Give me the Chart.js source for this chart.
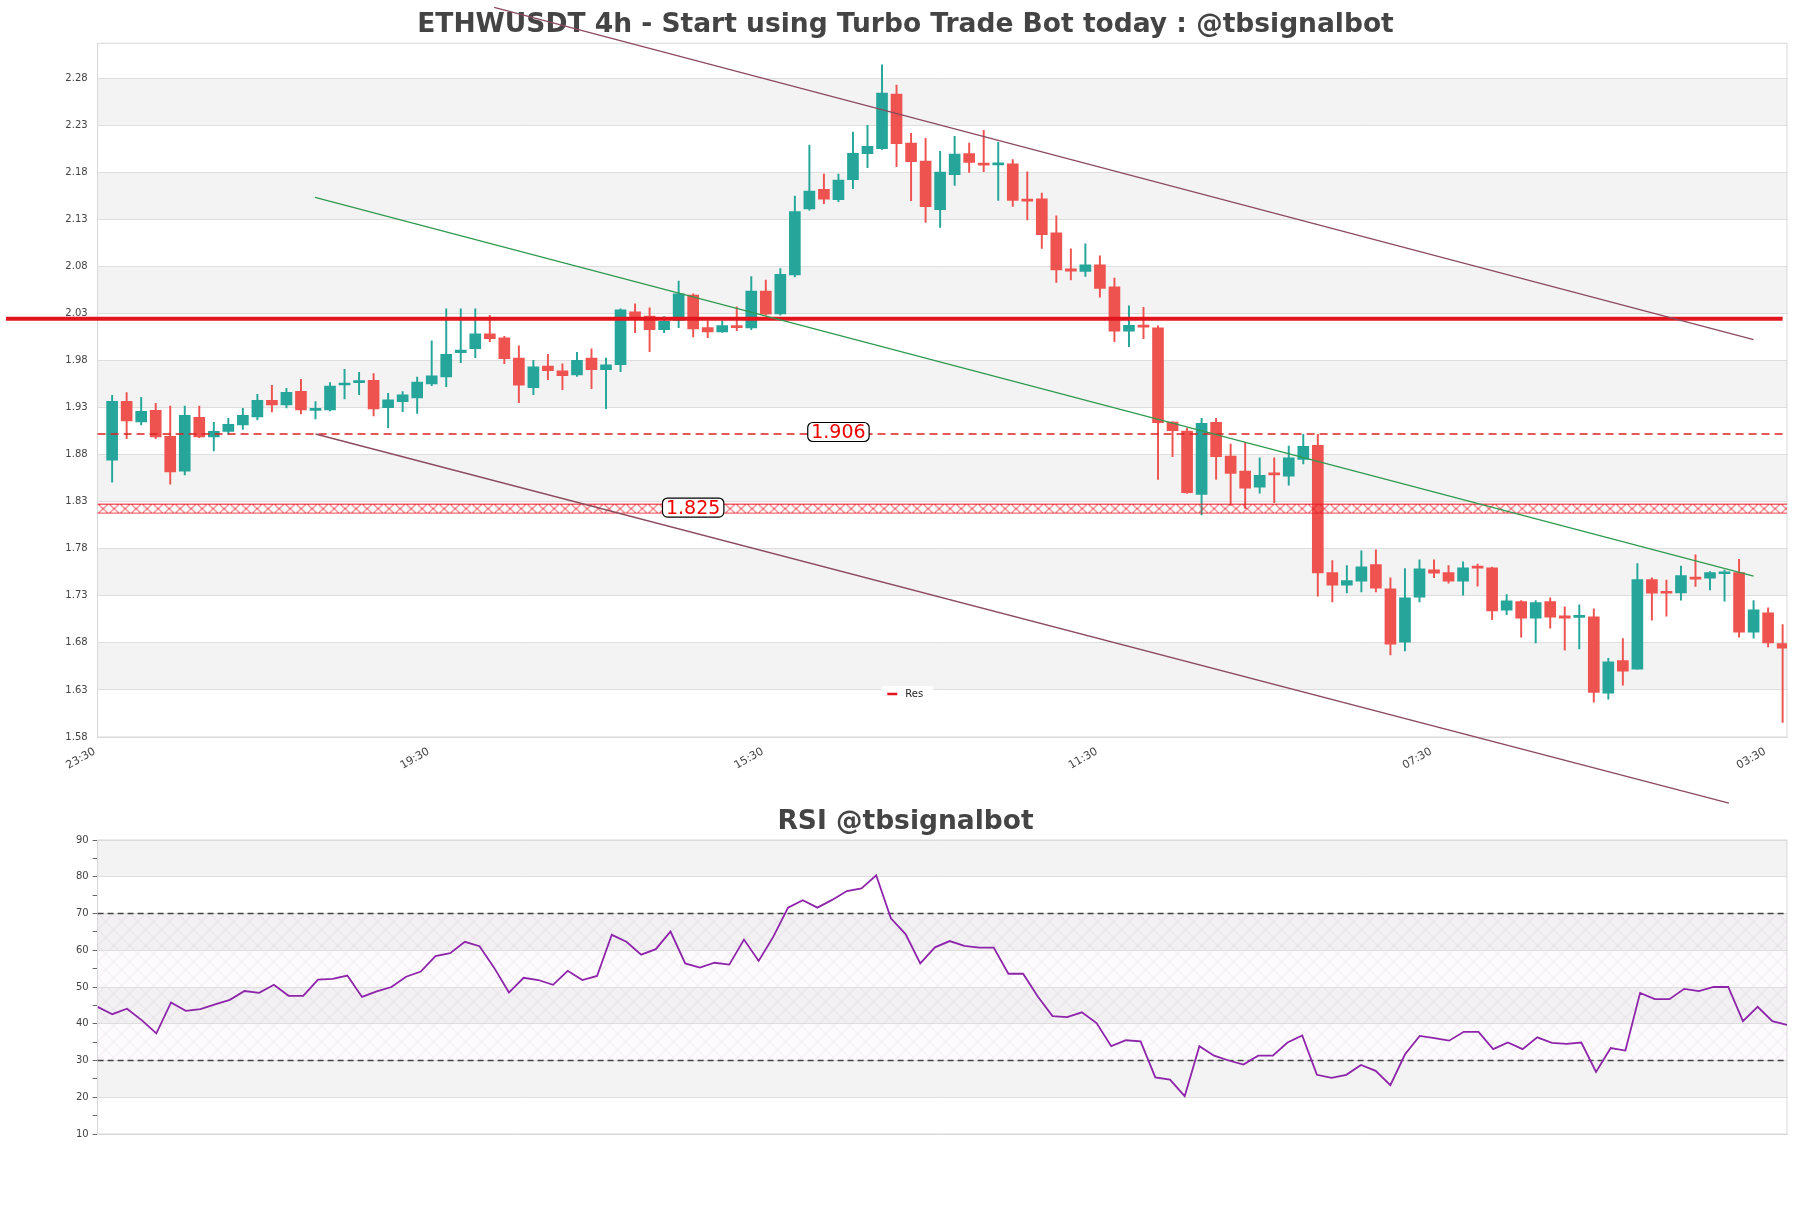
<!DOCTYPE html>
<html>
<head>
<meta charset="utf-8">
<script src="https://cdn.jsdelivr.net/npm/chart.js@4.4.1/dist/chart.umd.min.js"></script>
<style>
html, body { margin: 0; padding: 0; background: #fff; }
#wrap { position: relative; width: 1811px; height: 1208px; }
#priceBox { position: absolute; left: 0; top: 0; width: 1811px; height: 810px; }
#rsiBox { position: absolute; left: 0; top: 790px; width: 1811px; height: 418px; }
</style>
</head>
<body>
<div id="wrap">
  <div id="priceBox"><canvas id="priceChart" width="1811" height="810"></canvas></div>
  <div id="rsiBox"><canvas id="rsiChart" width="1811" height="418"></canvas></div>
</div>
<script>
// ETHWUSDT 4h candles
const openP = [1.8743,1.9367,1.9148,1.9272,1.8995,1.8626,1.9197,1.8988,1.9048,1.9116,
  1.9201,1.9378,1.9328,1.9474,1.9271,1.9275,1.9541,1.9566,1.9591,1.9300,
  1.9364,1.9403,1.9552,1.9626,1.9885,1.9928,2.0084,2.0041,1.9828,1.9513,
  1.9743,1.9690,1.9648,1.9828,1.9704,1.9757,2.0318,2.0272,2.0130,2.0226,
  2.0495,2.0151,2.0105,2.0172,2.0148,2.0538,2.0297,2.0711,2.1413,2.1619,
  2.1509,2.1722,2.1999,2.2052,2.2633,2.2112,2.1920,2.1403,2.1775,2.1999,
  2.1892,2.1880,2.1892,2.1502,2.1520,2.1158,2.0775,2.0747,2.0818,2.0584,
  2.0112,2.0176,2.0148,1.9148,1.9052,1.8378,1.9144,1.8786,1.8626,1.8456,
  1.8592,1.8573,1.8750,1.8899,1.7548,1.7414,1.7456,1.7633,1.7375,1.6807,
  1.7286,1.7577,1.7548,1.7456,1.7598,1.7598,1.7148,1.7240,1.7062,1.7240,
  1.7087,1.7072,1.7077,1.6265,1.6612,1.6520,1.7474,1.7346,1.7332,1.7491,
  1.7488,1.7535,1.7548,1.6913,1.7119,1.6793];
const highP = [1.9431,1.9460,1.9410,1.9346,1.9318,1.9318,1.9318,1.9144,1.9187,1.9293,
  1.9442,1.9538,1.9506,1.9601,1.9364,1.9566,1.9708,1.9676,1.9662,1.9453,
  1.9470,1.9626,2.0009,2.0350,2.0350,2.0350,2.0282,2.0059,1.9956,1.9804,
  1.9867,1.9765,1.9889,1.9924,1.9828,2.0350,2.0403,2.0360,2.0268,2.0644,
  2.0510,2.0222,2.0222,2.0371,2.0694,2.0655,2.0779,2.1548,2.2091,2.1782,
  2.1782,2.2229,2.2300,2.2942,2.2729,2.2215,2.2162,2.2023,2.2183,2.2112,
  2.2247,2.2119,2.1935,2.1807,2.1580,2.1339,2.0988,2.1041,2.0914,2.0676,
  2.0382,2.0367,2.0169,1.9150,1.9080,1.9187,1.9187,1.8914,1.8928,1.8768,
  1.8768,1.8892,1.9016,1.9016,1.7676,1.7623,1.7779,1.7790,1.7492,1.7591,
  1.7683,1.7683,1.7623,1.7662,1.7637,1.7605,1.7314,1.7251,1.7251,1.7279,
  1.7183,1.7204,1.7162,1.6637,1.6846,1.7644,1.7491,1.7467,1.7616,1.7736,
  1.7559,1.7573,1.7687,1.7250,1.7172,1.6995];
const lowP = [1.8509,1.8970,1.9116,1.8970,1.8488,1.8584,1.8981,1.8839,1.9016,1.9070,
  1.9169,1.9254,1.9296,1.9233,1.9180,1.9265,1.9392,1.9438,1.9211,1.9084,
  1.9257,1.9240,1.9534,1.9523,1.9779,1.9832,2.0002,1.9768,1.9353,1.9438,
  1.9598,1.9492,1.9633,1.9502,1.9289,1.9683,2.0098,1.9896,2.0098,2.0151,
  2.0052,2.0045,2.0100,2.0119,2.0130,2.0282,2.0282,2.0690,2.1399,2.1467,
  2.1488,2.1626,2.1850,2.2045,2.1860,2.1499,2.1268,2.1215,2.1662,2.1800,
  2.1807,2.1502,2.1438,2.1296,2.0991,2.0630,2.0658,2.0694,2.0474,2.0002,
  1.9949,2.0034,1.8538,1.8779,1.8389,1.8160,1.8538,1.8260,1.8230,1.8392,
  1.8289,1.8477,1.8701,1.7296,1.7236,1.7332,1.7343,1.7343,1.6672,1.6715,
  1.7236,1.7492,1.7435,1.7307,1.7403,1.7048,1.7101,1.6860,1.6800,1.6956,
  1.6722,1.6736,1.6169,1.6201,1.6350,1.6520,1.7041,1.7084,1.7254,1.7399,
  1.7364,1.7243,1.6860,1.6850,1.6757,1.5956];
const closeP = [1.9367,1.9158,1.9261,1.8988,1.8616,1.9218,1.8988,1.9048,1.9123,1.9218,
  1.9378,1.9328,1.9463,1.9275,1.9285,1.9530,1.9559,1.9587,1.9286,1.9382,
  1.9435,1.9573,1.9637,1.9867,1.9913,2.0084,2.0034,1.9821,1.9538,1.9733,
  1.9694,1.9640,1.9804,1.9704,1.9754,2.0339,2.0261,2.0130,2.0218,2.0509,
  2.0137,2.0105,2.0172,2.0151,2.0538,2.0293,2.0718,2.1385,2.1601,2.1516,
  2.1718,2.2002,2.2077,2.2644,2.2105,2.1913,2.1435,2.1804,2.1995,2.1906,
  2.1878,2.1884,2.1502,2.1495,2.1137,2.0765,2.0750,2.0818,2.0566,2.0112,
  2.0176,2.0155,1.9141,1.9055,1.8396,1.9133,1.8779,1.8602,1.8445,1.8580,
  1.8585,1.8768,1.8889,1.7545,1.7414,1.7463,1.7609,1.7382,1.6786,1.7279,
  1.7587,1.7541,1.7456,1.7598,1.7594,1.7140,1.7247,1.7062,1.7229,1.7073,
  1.7062,1.7076,1.6275,1.6598,1.6499,1.7474,1.7328,1.7328,1.7516,1.7477,
  1.7548,1.7538,1.6913,1.7151,1.6800,1.6743];

// RSI values, one per candle
const rsiVals = [44.6,42.6,44.1,41.0,37.4,45.8,43.5,44.0,45.3,46.5,
  48.9,48.4,50.6,47.6,47.6,52.0,52.2,53.1,47.3,48.8,
  50.0,52.8,54.2,58.4,59.2,62.3,61.1,55.2,48.5,52.5,
  51.9,50.6,54.4,51.9,53.0,64.2,62.3,58.8,60.3,65.1,
  56.4,55.3,56.6,56.1,62.9,57.1,63.7,71.6,73.6,71.6,
  73.7,76.1,76.8,80.4,68.7,64.4,56.4,60.8,62.5,61.2,
  60.7,60.7,53.6,53.6,47.4,42.1,41.8,43.1,40.2,33.9,
  35.5,35.2,25.4,24.8,20.3,33.9,31.3,30.0,28.9,31.3,
  31.3,34.9,36.8,26.1,25.3,26.1,28.8,27.2,23.3,31.7,
  36.7,36.1,35.4,37.8,37.8,33.1,34.9,33.1,36.3,34.8,
  34.5,34.9,26.9,33.4,32.7,48.4,46.7,46.7,49.5,48.9,
  50.0,50.0,40.7,44.6,40.7,39.7];

// axis ticks
const priceTicks = [1.58,1.63,1.68,1.73,1.78,1.83,1.88,1.93,1.98,2.03,2.08,2.13,2.18,2.23,2.28];
const rsiTicks = [10,15,20,25,30,35,40,45,50,55,60,65,70,75,80,85,90];
const timeTickPos = [-1,22,45,68,91,114];
const timeTickText = ['23:30','19:30','15:30','11:30','07:30','03:30'];

// levels and trend lines, in (candle index, price)
const resLevel = 2.0244, resFrom = -7.3, resTo = 115.0;
const pivotLevel = 1.902, pivotText = '1.906', pivotAt = 50;
const zoneLow = 1.8175, zoneHigh = 1.828, zoneText = '1.825', zoneAt = 40;
const upperTrend = [[26.3, 2.3554], [113.0, 2.0022]];
const lowerTrend = [[14.0, 1.902], [111.3, 1.5098]];
const midTrend = [[13.97, 2.1535], [113.0, 1.7509]];
const rsiHigh = 70, rsiLow = 30;

const UP = '#26a69a', DOWN = '#ef5350';
const TITLE_MAIN = 'ETHWUSDT 4h - Start using Turbo Trade Bot today : @tbsignalbot';
const TITLE_RSI = 'RSI @tbsignalbot';

Chart.defaults.font.family = "'DejaVu Sans', sans-serif";
Chart.defaults.color = '#444';

function drawBands(chart, ticks, yId) {
  const {ctx, chartArea} = chart;
  const y = chart.scales[yId];
  ctx.save();
  ctx.fillStyle = '#f3f3f3';
  for (let i = 1; i < ticks.length - 1; i += 2) {
    const top = y.getPixelForValue(ticks[i + 1]);
    const bot = y.getPixelForValue(ticks[i]);
    ctx.fillRect(chartArea.left, top, chartArea.right - chartArea.left, bot - top);
  }
  ctx.restore();
}

function drawFrame(chart) {
  const {ctx, chartArea} = chart;
  ctx.save();
  ctx.strokeStyle = '#d9d9d9';
  ctx.lineWidth = 1;
  ctx.strokeRect(chartArea.left, chartArea.top, chartArea.right - chartArea.left, chartArea.bottom - chartArea.top);
  ctx.restore();
}

function drawTitle(chart, text, baseline) {
  const ctx = chart.ctx;
  ctx.save();
  ctx.font = "bold 26.5px 'DejaVu Sans'";
  ctx.fillStyle = '#444';
  ctx.textAlign = 'center';
  ctx.textBaseline = 'alphabetic';
  ctx.fillText(text, chart.width / 2, baseline);
  ctx.restore();
}

function drawTag(ctx, text, cx, cy) {
  ctx.save();
  ctx.font = "19px 'DejaVu Sans'";
  const w = ctx.measureText(text).width + 7, h = 19;
  ctx.beginPath();
  ctx.roundRect(cx - w / 2, cy - h / 2, w, h, 5);
  ctx.fillStyle = '#fff';
  ctx.fill();
  ctx.strokeStyle = '#000';
  ctx.lineWidth = 1.2;
  ctx.stroke();
  ctx.fillStyle = '#f00000';
  ctx.textAlign = 'center';
  ctx.textBaseline = 'middle';
  ctx.fillText(text, cx, cy + 1);
  ctx.restore();
}

function zonePattern(ctx) {
  const c = document.createElement('canvas');
  c.width = 11; c.height = 10;
  const g = c.getContext('2d');
  g.strokeStyle = '#e8202a';
  g.lineWidth = 1;
  g.beginPath();
  g.moveTo(0, 0.5); g.lineTo(11, 0.5);
  g.moveTo(0, 9.5); g.lineTo(11, 9.5);
  g.moveTo(0, 0); g.lineTo(11, 10);
  g.moveTo(11, 0); g.lineTo(0, 10);
  g.stroke();
  return ctx.createPattern(c, 'repeat');
}

function hatchPattern(ctx) {
  const c = document.createElement('canvas');
  c.width = 16; c.height = 16;
  const g = c.getContext('2d');
  g.fillStyle = 'rgba(225,205,235,0.08)';
  g.fillRect(0, 0, 16, 16);
  g.strokeStyle = 'rgba(160,130,185,0.25)';
  g.lineWidth = 0.6;
  g.beginPath();
  g.moveTo(0, 0); g.lineTo(16, 16);
  g.moveTo(16, 0); g.lineTo(0, 16);
  g.stroke();
  return ctx.createPattern(c, 'repeat');
}

function trend(ctx, xs, ys, pts, color, width) {
  ctx.save();
  ctx.strokeStyle = color;
  ctx.lineWidth = width;
  ctx.beginPath();
  ctx.moveTo(xs.getPixelForValue(pts[0][0]), ys.getPixelForValue(pts[0][1]));
  ctx.lineTo(xs.getPixelForValue(pts[1][0]), ys.getPixelForValue(pts[1][1]));
  ctx.stroke();
  ctx.restore();
}

const pricePlugin = {
  id: 'priceDecor',
  beforeDraw(chart) {
    drawBands(chart, priceTicks, 'y');
    drawTitle(chart, TITLE_MAIN, 31.7);
  },
  beforeDatasetsDraw(chart) { drawFrame(chart); },
  afterDatasetsDraw(chart) {
    const {ctx, chartArea} = chart;
    const xs = chart.scales.x, ys = chart.scales.y;
    const L = chartArea.left, R = chartArea.right;

    // support zone band
    const zt = ys.getPixelForValue(zoneHigh), zb = ys.getPixelForValue(zoneLow);
    ctx.save();
    ctx.translate(L, zt);
    ctx.fillStyle = zonePattern(ctx);
    ctx.fillRect(0, 0, R - L, zb - zt);
    ctx.restore();

    // dashed pivot level
    const py = ys.getPixelForValue(pivotLevel);
    ctx.save();
    ctx.strokeStyle = '#dd2222';
    ctx.lineWidth = 1.4;
    ctx.setLineDash([8, 5]);
    ctx.beginPath(); ctx.moveTo(L, py); ctx.lineTo(R, py); ctx.stroke();
    ctx.restore();

    // resistance
    const ry = ys.getPixelForValue(resLevel);
    ctx.save();
    ctx.strokeStyle = '#e2141e';
    ctx.lineWidth = 4;
    ctx.beginPath();
    ctx.moveTo(xs.getPixelForValue(resFrom), ry);
    ctx.lineTo(xs.getPixelForValue(resTo), ry);
    ctx.stroke();
    ctx.restore();

    // trend lines
    trend(ctx, xs, ys, upperTrend, '#8c4a5e', 1.3);
    trend(ctx, xs, ys, lowerTrend, '#8c4a5e', 1.3);
    trend(ctx, xs, ys, midTrend, '#2e9a4e', 1.2);

    // value tags
    drawTag(ctx, pivotText, xs.getPixelForValue(pivotAt), py - 2);
    drawTag(ctx, zoneText, xs.getPixelForValue(zoneAt), (zt + zb) / 2 - 1);

    // legend
    const lx = (L + R) / 2 - 61, ly = chartArea.bottom - 43;
    ctx.save();
    ctx.fillStyle = 'rgba(255,255,255,0.9)';
    ctx.beginPath(); ctx.roundRect(lx, ly - 8, 52, 16, 3); ctx.fill();
    ctx.strokeStyle = '#e2141e';
    ctx.lineWidth = 2.5;
    ctx.beginPath(); ctx.moveTo(lx + 6, ly); ctx.lineTo(lx + 16, ly); ctx.stroke();
    ctx.fillStyle = '#222';
    ctx.font = "10px 'DejaVu Sans'";
    ctx.textBaseline = 'middle';
    ctx.fillText('Res', lx + 24, ly);
    ctx.restore();
  }
};

const rsiPlugin = {
  id: 'rsiDecor',
  beforeDraw(chart) {
    drawBands(chart, rsiTicks.filter(v => v % 10 === 0), 'y');
    const {ctx, chartArea} = chart;
    const ys = chart.scales.y;
    const t = ys.getPixelForValue(rsiHigh), b = ys.getPixelForValue(rsiLow);
    ctx.save();
    ctx.translate(chartArea.left, t);
    ctx.fillStyle = hatchPattern(ctx);
    ctx.fillRect(0, 0, chartArea.right - chartArea.left, b - t);
    ctx.restore();
    drawTitle(chart, TITLE_RSI, 39.3);
  },
  beforeDatasetsDraw(chart) {
    drawFrame(chart);
    const {ctx, chartArea} = chart;
    const ys = chart.scales.y;
    ctx.save();
    ctx.strokeStyle = '#444';
    ctx.lineWidth = 1.3;
    ctx.setLineDash([6, 4]);
    [rsiHigh, rsiLow].forEach(v => {
      const y = ys.getPixelForValue(v);
      ctx.beginPath(); ctx.moveTo(chartArea.left, y); ctx.lineTo(chartArea.right, y); ctx.stroke();
    });
    ctx.restore();
  }
};

const idx = openP.map((_, i) => i);
const candleColors = idx.map(i => closeP[i] >= openP[i] ? UP : DOWN);

new Chart(document.getElementById('priceChart').getContext('2d'), {
  type: 'bar',
  data: {
    datasets: [
      {
        label: 'body',
        data: idx.map(i => ({x: i, y: [openP[i], closeP[i]]})),
        backgroundColor: candleColors,
        barThickness: 11,
        minBarLength: 2,
        grouped: false,
        order: 1
      },
      {
        label: 'wick',
        data: idx.map(i => ({x: i, y: [lowP[i], highP[i]]})),
        backgroundColor: candleColors,
        barThickness: 1.3,
        grouped: false,
        order: 2
      }
    ]
  },
  options: {
    responsive: false,
    animation: false,
    devicePixelRatio: 1,
    layout: {padding: {top: 43.3, right: 24, left: 0, bottom: 0}},
    plugins: {legend: {display: false}, tooltip: {enabled: false}, title: {display: false}},
    scales: {
      x: {
        type: 'linear',
        offset: false,
        min: -1,
        max: 115.3,
        grid: {display: false, offset: false},
        border: {color: '#d9d9d9'},
        afterBuildTicks: s => { s.ticks = timeTickPos.map(v => ({value: v})); },
        afterFit: s => { s.height = 73; },
        ticks: {
          autoSkip: false,
          minRotation: 30,
          maxRotation: 30,
          padding: 0,
          labelOffset: -3,
          font: {size: 11},
          color: '#444',
          callback: v => timeTickText[timeTickPos.indexOf(v)]
        }
      },
      y: {
        min: 1.58,
        max: 2.3172,
        grid: {color: '#dedede', drawTicks: false},
        border: {color: '#d9d9d9'},
        afterBuildTicks: s => { s.ticks = priceTicks.map(v => ({value: v})); },
        afterFit: s => { s.width = 97.6; },
        ticks: {padding: 10, font: {size: 10}, color: '#444', callback: v => v.toFixed(2)}
      }
    }
  },
  plugins: [pricePlugin]
});

new Chart(document.getElementById('rsiChart').getContext('2d'), {
  type: 'line',
  data: {
    datasets: [{
      label: 'RSI',
      data: rsiVals.map((v, i) => ({x: i, y: v})),
      borderColor: '#8e24aa',
      borderWidth: 1.8,
      pointRadius: 0,
      tension: 0,
      fill: false
    }]
  },
  options: {
    responsive: false,
    animation: false,
    devicePixelRatio: 1,
    layout: {padding: {top: 50, right: 24, left: 0, bottom: 0}},
    plugins: {legend: {display: false}, tooltip: {enabled: false}, title: {display: false}},
    scales: {
      x: {
        type: 'linear',
        min: 0,
        max: rsiVals.length - 1,
        grid: {display: false},
        border: {color: '#d9d9d9'},
        ticks: {display: false},
        afterFit: s => { s.height = 74; }
      },
      y: {
        min: 10,
        max: 90,
        afterBuildTicks: s => { s.ticks = rsiTicks.map(v => ({value: v})); },
        afterFit: s => { s.width = 97.6; },
        grid: {
          color: c => (c.tick && c.tick.value % 10 === 0) ? '#dedede' : 'rgba(0,0,0,0)',
          tickColor: '#666',
          tickLength: 5
        },
        border: {color: '#d9d9d9'},
        ticks: {padding: 4, font: {size: 10}, color: '#444', callback: v => v % 10 === 0 ? v : ''}
      }
    }
  },
  plugins: [rsiPlugin]
});
</script>
</body>
</html>
